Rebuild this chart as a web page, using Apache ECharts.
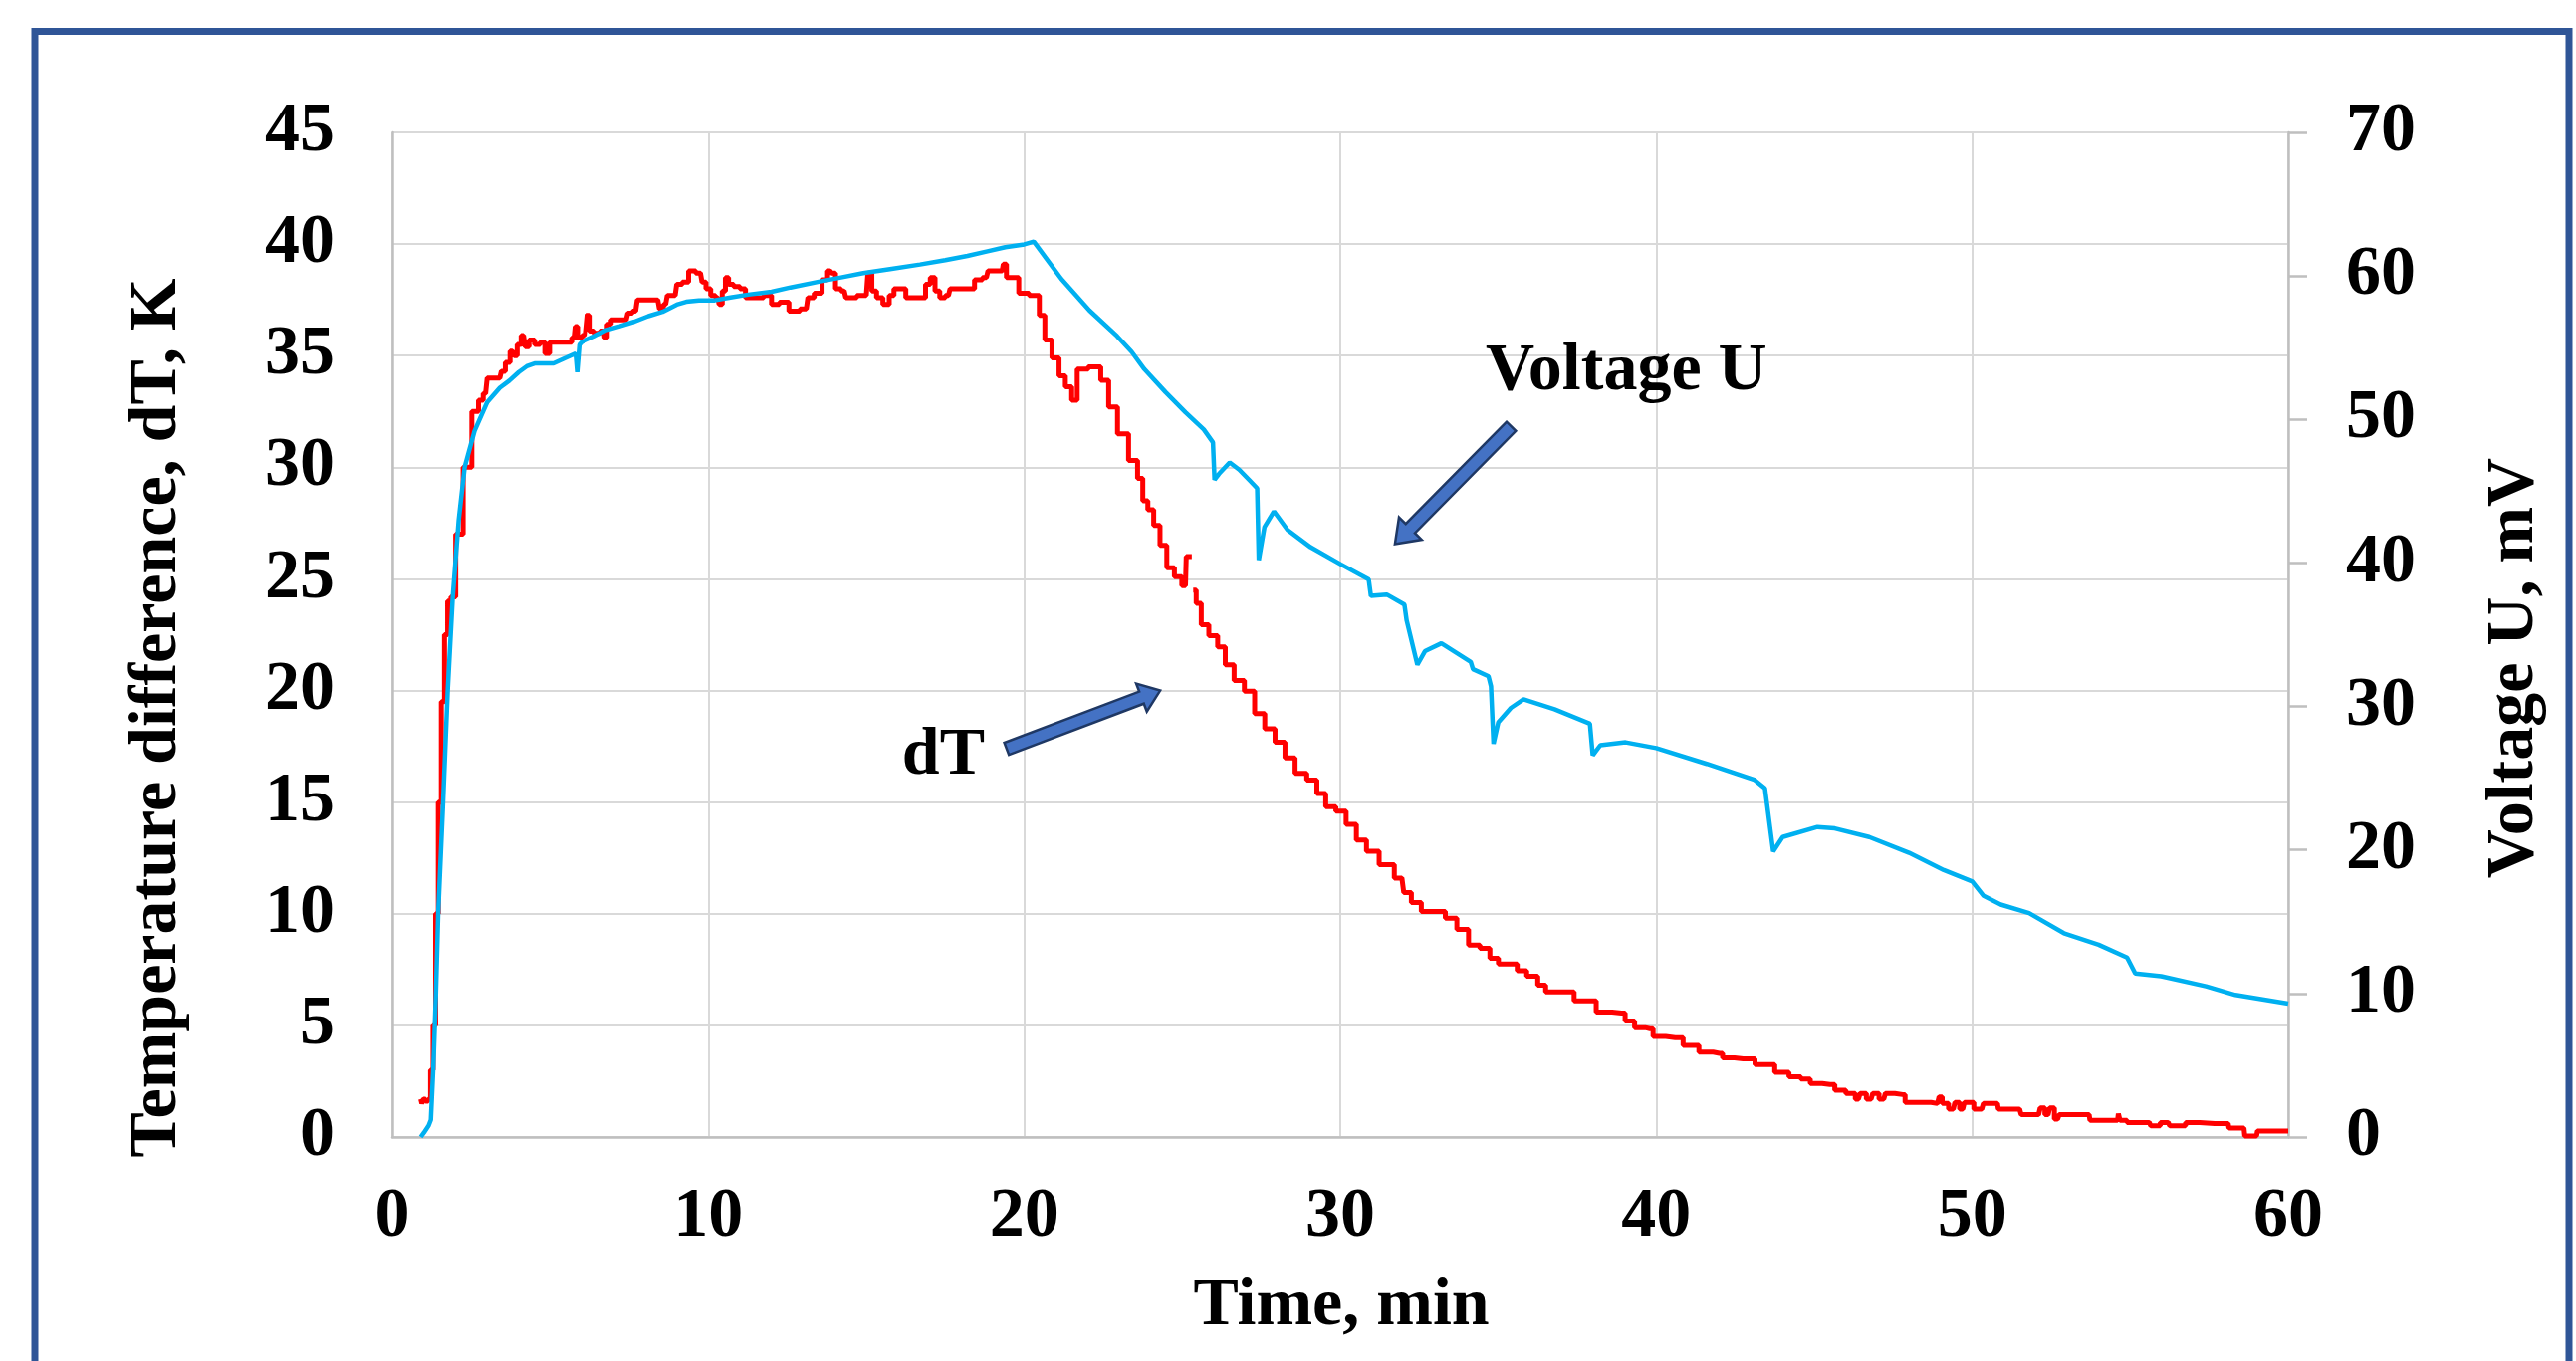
<!DOCTYPE html>
<html><head><meta charset="utf-8">
<script src="https://cdn.jsdelivr.net/npm/echarts@6/dist/echarts.min.js"></script>
<style>html,body{margin:0;padding:0;background:#fff;}#c{width:2587px;height:1367px;}</style>
</head><body><div id="c"></div>
<script>
// ---- tick settings ----
const xTickMin = 0, xTickMax = 60, xTickStep = 10;
const dtTickMin = 0, dtTickMax = 45, dtTickStep = 5;
const uTickMin = 0, uTickMax = 70, uTickStep = 10;

// ---- dT series (time in min, dT in K); null = gap ----
const dtTime = [0.90,0.97,1.00,1.10,1.17,1.25,1.33,1.41,1.50,1.60,1.70,1.80,1.91,2.10,2.38,2.65,2.80,2.95,3.05,3.40,3.50,3.65,3.80,3.90,4.00,4.15,4.25,4.40,4.60,4.75,4.90,5.05,5.40,5.60,5.75,5.82,5.90,6.10,6.22,6.30,6.50,6.70,6.75,6.85,7.00,7.40,7.50,7.70,7.80,8.40,8.50,8.65,8.75,8.95,9.05,9.30,9.45,9.75,9.85,10.00,10.15,10.30,10.38,10.50,10.58,10.70,10.90,11.10,11.25,11.60,11.90,12.10,12.40,12.70,13.10,13.20,13.50,13.70,13.85,13.95,14.10,14.30,14.40,15.00,15.10,15.25,15.40,15.65,15.80,15.95,16.15,16.35,16.80,16.95,17.10,17.25,17.40,17.60,17.70,18.30,18.55,18.80,18.90,19.30,19.37,19.50,19.75,19.90,20.40,20.55,20.75,21.00,21.20,21.40,21.60,21.75,22.30,22.54,22.80,23.10,23.50,23.67,23.83,23.99,24.20,24.39,24.63,24.87,25.10,25.15,25.30,25.33,25.36,25.52,25.68,26.00,26.24,26.48,26.80,27.13,27.45,27.77,28.10,28.40,28.74,29.14,29.38,29.70,30.02,30.35,30.67,30.99,31.47,31.95,32.07,32.43,32.70,33.15,33.50,33.88,34.24,34.60,34.87,35.14,35.50,35.70,36.10,36.40,36.60,37.30,37.50,37.90,38.30,38.90,39.13,39.50,39.80,40.00,40.60,41.10,41.60,42.00,42.20,42.75,43.50,44.00,44.40,44.75,45.00,45.50,45.80,46.20,46.40,46.50,46.80,46.90,47.20,47.30,47.80,47.95,48.50,48.90,49.00,49.10,49.40,49.50,49.70,49.80,50.30,50.40,50.80,50.85,51.50,51.60,52.10,52.20,52.40,52.50,52.70,52.80,53.70,53.75,54.60,54.65,54.70,55.10,55.60,55.70,56.20,56.30,57.20,57.25,58.10,58.15,58.60,58.65,59.00,59.05,60.00];
const dtValue = [1.7,1.5,1.7,1.6,1.7,3.0,5.0,10.0,15.0,19.5,22.5,24.0,24.2,27.0,30.0,32.5,33.0,33.3,34.0,34.0,34.3,34.7,35.2,35.0,35.5,35.9,35.4,35.7,35.5,35.6,35.1,35.6,35.6,35.6,35.8,36.3,35.8,35.9,36.8,36.1,36.0,36.1,35.8,36.4,36.6,36.6,36.9,37.0,37.5,37.5,37.1,37.3,37.7,37.7,38.2,38.3,38.8,38.7,38.3,38.0,37.7,37.6,37.3,37.9,38.5,38.2,38.1,38.0,37.6,37.6,37.7,37.3,37.4,37.0,37.1,37.6,37.8,38.4,38.8,38.7,38.0,37.9,37.6,37.7,38.7,37.9,37.6,37.3,37.7,38.0,38.0,37.6,37.6,38.2,38.5,37.9,37.6,37.7,38.0,38.0,38.4,38.5,38.8,38.8,39.1,38.5,38.5,37.8,37.7,36.8,35.7,34.9,34.1,33.6,33.0,34.4,34.5,33.9,32.7,31.5,30.3,29.5,28.5,28.1,27.4,26.5,25.5,25.1,24.7,26.0,26.0,null,24.5,23.9,22.95,22.45,21.95,21.15,20.45,19.97,18.97,18.28,17.68,16.98,16.29,15.99,15.39,14.8,14.6,14.0,13.3,12.8,12.2,11.6,10.95,10.5,10.1,10.1,9.8,9.3,8.6,8.45,8.0,7.75,7.75,7.45,7.2,6.8,6.5,6.5,6.1,6.1,5.6,5.55,5.2,4.9,4.85,4.5,4.45,4.1,3.8,3.75,3.55,3.5,3.25,2.9,2.7,2.6,2.4,2.35,2.1,1.95,1.7,1.95,1.7,1.95,1.7,1.95,1.9,1.55,1.55,1.5,1.8,1.5,1.25,1.55,1.25,1.55,1.25,1.5,1.5,1.25,1.25,1.0,1.0,1.3,1.0,1.3,0.8,1.0,1.0,0.75,0.75,1.05,0.75,0.65,0.65,0.5,0.65,0.5,0.65,0.6,0.6,0.4,0.4,0.05,0.05,0.27,0.27];

// ---- Voltage U series (time in min, U in mV) ----
const uTime = [0.90,1.00,1.15,1.22,1.30,1.38,1.45,1.60,1.75,1.91,2.10,2.29,2.60,3.00,3.40,3.70,4.00,4.25,4.50,5.10,5.50,5.80,5.85,5.92,6.00,6.40,6.74,7.20,7.64,8.10,8.55,9.00,9.30,9.70,10.20,10.70,11.26,12.00,12.60,13.50,14.20,14.90,15.80,16.70,17.50,18.20,18.80,19.40,20.00,20.30,21.17,22.06,22.94,23.40,23.80,24.47,25.10,25.68,25.97,26.02,26.16,26.50,26.80,27.13,27.37,27.42,27.60,27.90,28.33,29.06,30.02,30.90,30.97,31.47,32.03,32.10,32.44,32.68,33.20,34.13,34.20,34.69,34.77,34.85,35.00,35.40,35.80,36.78,37.90,37.99,38.23,39.03,40.00,41.60,43.10,43.44,43.70,44.00,45.10,45.65,46.74,48.00,49.10,50.00,50.36,50.90,51.80,52.90,54.00,54.90,55.16,55.98,57.40,58.33,60.00];
const uValue = [0.0,0.3,0.8,1.2,5.0,10.0,15.5,23.0,31.0,37.6,43.0,46.7,49.2,51.2,52.2,52.7,53.3,53.7,53.9,53.9,54.3,54.6,53.3,55.2,55.4,55.8,56.2,56.5,56.8,57.2,57.5,58.0,58.2,58.3,58.3,58.5,58.7,58.9,59.2,59.6,59.9,60.2,60.5,60.8,61.1,61.4,61.7,62.0,62.2,62.4,59.8,57.6,55.8,54.7,53.5,51.9,50.5,49.3,48.4,45.8,46.2,47.0,46.5,45.75,45.2,40.2,42.5,43.6,42.3,41.1,39.9,38.85,37.7,37.8,37.1,36.0,32.9,33.85,34.4,33.1,32.6,32.1,31.4,27.4,28.9,29.9,30.5,29.8,28.8,26.6,27.3,27.5,27.1,26.0,24.9,24.3,19.9,20.9,21.6,21.5,20.9,19.8,18.6,17.8,16.8,16.2,15.6,14.2,13.4,12.5,11.4,11.2,10.5,9.9,9.3];

// ---- texts ----
const xTitle = 'Time, min';
const yLeftTitle = 'Temperature difference, dT, K';
const yRightTitle = 'Voltage U, mV';
// annotations in data coordinates (x: min, y: dT axis)
const labelVoltage = {text: 'Voltage U', at: [34.60, 34.29]};
const labelDT = {text: 'dT', at: [16.13, 17.05]};
const arrowVoltage = {tail: [35.41, 31.83], tip: [31.73, 26.56]};
const arrowDT = {tail: [19.44, 17.39], tip: [24.30, 20.00]};

const FONT = 'Liberation Serif';
const chart = echarts.init(document.getElementById('c'), null, {renderer: 'canvas'});

const dtData = dtTime.map((t, i) => [t, dtValue[i] === null ? '-' : dtValue[i]]);
const uData = uTime.map((t, i) => [t, uValue[i]]);

const lbl = {fontFamily: FONT, fontWeight: 'bold', fontSize: 70, color: '#000'};

chart.setOption({
  animation: false,
  backgroundColor: '#fff',
  grid: {left: 394, right: 289, top: 133, bottom: 225, containLabel: false},
  xAxis: {
    type: 'value', min: xTickMin, max: xTickMax, interval: xTickStep,
    axisLine: {show: true, lineStyle: {color: '#BFBFBF', width: 2.5}},
    axisTick: {show: false},
    axisLabel: Object.assign({margin: 46}, lbl),
    splitLine: {show: true, lineStyle: {color: '#D9D9D9', width: 2}}
  },
  yAxis: [{
    type: 'value', min: dtTickMin, max: dtTickMax, interval: dtTickStep, position: 'left',
    axisLine: {show: true, lineStyle: {color: '#BFBFBF', width: 2.5}},
    axisTick: {show: false},
    axisLabel: Object.assign({margin: 58}, lbl),
    splitLine: {show: true, lineStyle: {color: '#D9D9D9', width: 2}}
  }, {
    type: 'value', min: uTickMin, max: uTickMax, interval: uTickStep, position: 'right',
    axisLine: {show: true, lineStyle: {color: '#BFBFBF', width: 2.5}},
    axisTick: {show: true, inside: false, length: 19, lineStyle: {color: '#BFBFBF', width: 2.5}},
    axisLabel: Object.assign({margin: 58}, lbl),
    splitLine: {show: false}
  }],
  series: [{
    name: 'dT', type: 'line', yAxisIndex: 0, data: dtData, showSymbol: false, connectNulls: false,
    step: 'middle',
    lineStyle: {color: '#FF0000', width: 5}, itemStyle: {color: '#FF0000'}, z: 3
  }, {
    name: 'Voltage U', type: 'line', yAxisIndex: 1, data: uData, showSymbol: false,
    lineStyle: {color: '#00B0F0', width: 4.5}, itemStyle: {color: '#00B0F0'}, z: 4
  }]
});

function px(p) { return chart.convertToPixel({xAxisIndex: 0, yAxisIndex: 0}, p); }
function arrowPoints(tail, tip, sw, hw, hl) {
  const dx = tip[0] - tail[0], dy = tip[1] - tail[1];
  const len = Math.hypot(dx, dy), ux = dx / len, uy = dy / len, nx = -uy, ny = ux;
  const bx = tip[0] - ux * hl, by = tip[1] - uy * hl;
  return [[tail[0] + nx * sw, tail[1] + ny * sw], [bx + nx * sw, by + ny * sw], [bx + nx * hw, by + ny * hw],
    tip, [bx - nx * hw, by - ny * hw], [bx - nx * sw, by - ny * sw], [tail[0] - nx * sw, tail[1] - ny * sw]];
}
function txt(text, x, y, rot, align) {
  return {type: 'text', x: x, y: y, rotation: rot || 0, z: 100,
    style: {text: text, fontFamily: FONT, fontWeight: 'bold', fontSize: 68, fill: '#000',
      align: align || 'center', verticalAlign: 'middle'}};
}
const vA = arrowPoints(px(arrowVoltage.tail), px(arrowVoltage.tip), 6.5, 16, 22);
const dA = arrowPoints(px(arrowDT.tail), px(arrowDT.tip), 6.5, 15, 20);
const vL = px(labelVoltage.at), dL = px(labelDT.at);

chart.setOption({
  graphic: [
    {type: 'rect', shape: {x: 35, y: 31.5, width: 2545, height: 1400}, style: {fill: 'none', stroke: '#2F5597', lineWidth: 7}, z: 100},
    txt(xTitle, 1347, 1312),
    txt(yLeftTitle, 158, 721, Math.PI / 2),
    txt(yRightTitle, 2525, 671, Math.PI / 2),
    txt(labelVoltage.text, vL[0], vL[1], 0, 'left'),
    txt(labelDT.text, dL[0], dL[1], 0, 'left'),
    {type: 'polygon', shape: {points: vA}, style: {fill: '#4472C4', stroke: '#1F3864', lineWidth: 2.5}, z: 100},
    {type: 'polygon', shape: {points: dA}, style: {fill: '#4472C4', stroke: '#1F3864', lineWidth: 2.5}, z: 100}
  ]
});
</script></body></html>
